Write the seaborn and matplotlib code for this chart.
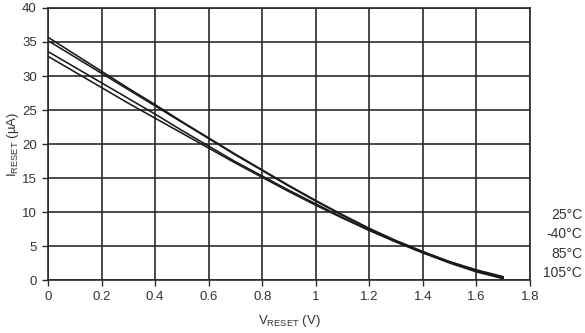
import numpy as np
import pandas as pd
import matplotlib
matplotlib.use("Agg")
import matplotlib.pyplot as plt
import matplotlib.transforms as mtransforms
import seaborn as sns

v_reset = [0.0, 0.1, 0.2, 0.3, 0.4, 0.5, 0.6, 0.7, 0.8, 0.9, 1.0,
           1.1, 1.2, 1.3, 1.4, 1.5, 1.6, 1.7]
i_25 = [35.7, 33.2, 30.7, 28.2, 25.8, 23.3, 20.9, 18.5, 16.2, 13.9, 11.7,
        9.6, 7.6, 5.8, 4.2, 2.7, 1.4, 0.4]
i_m40 = [35.2, 32.8, 30.4, 28.0, 25.6, 23.2, 20.8, 18.4, 16.1, 13.8, 11.6,
         9.5, 7.5, 5.7, 4.1, 2.7, 1.5, 0.5]
i_85 = [33.6, 31.3, 29.0, 26.7, 24.4, 22.0, 19.7, 17.4, 15.3, 13.2, 11.2,
        9.2, 7.3, 5.6, 4.0, 2.6, 1.3, 0.3]
i_105 = [32.9, 30.6, 28.3, 26.0, 23.8, 21.6, 19.4, 17.2, 15.1, 13.0, 11.0,
         9.1, 7.3, 5.6, 4.0, 2.5, 1.2, 0.2]
labels = ["25°C", "-40°C", "85°C", "105°C"]
label_y = [9.6, 6.8, 3.8, 1.0]
x_ticks = [0, 0.2, 0.4, 0.6, 0.8, 1, 1.2, 1.4, 1.6, 1.8]
x_tick_labels = ["0", "0.2", "0.4", "0.6", "0.8", "1", "1.2", "1.4", "1.6", "1.8"]
y_ticks = [0, 5, 10, 15, 20, 25, 30, 35, 40]

series = [i_25, i_m40, i_85, i_105]
df = pd.concat([pd.DataFrame({"V": v_reset, "I": s, "T": lab})
                for s, lab in zip(series, labels)], ignore_index=True)

sns.set_theme(style="white")
plt.rcParams["font.family"] = ["Liberation Sans", "DejaVu Sans"]
plt.rcParams["mathtext.fontset"] = "custom"
plt.rcParams["mathtext.rm"] = "Liberation Sans"

txt = "#333333"
gridc = "#2a2a2a"

fig = plt.figure(figsize=(5.85, 3.33), dpi=100)
ax = fig.add_axes([0.082, 0.159, 0.824, 0.817])

sns.lineplot(data=df, x="V", y="I", hue="T", palette=["#1a1a1a"] * 4,
             linewidth=1.15, legend=False, ax=ax, sort=False)

ax.set_xlim(0, 1.8)
ax.set_ylim(0, 40)
ax.set_xticks(x_ticks)
ax.set_xticklabels(x_tick_labels)
ax.set_yticks(y_ticks)
ax.grid(True, color=gridc, linewidth=1.2)
ax.set_axisbelow(True)
for sp in ax.spines.values():
    sp.set_visible(True)
    sp.set_color(gridc)
    sp.set_linewidth(1.2)
ax.tick_params(axis="both", direction="out", length=4, width=1.0,
               color=gridc, labelsize=9.5, labelcolor=txt, pad=4,
               bottom=True, left=True)

ax.set_xlabel(r"V$_{\mathrm{RESET}}$ (V)", fontsize=9.5, color=txt, labelpad=7)
ax.set_ylabel(r"I$_{\mathrm{RESET}}$ (µA)", fontsize=9.5, color=txt)
ax.yaxis.set_label_coords(-0.056, 0.5)

trans = mtransforms.blended_transform_factory(fig.transFigure, ax.transData)
for lab, yv in zip(labels, label_y):
    ax.text(0.995, yv, lab, transform=trans, ha="right", va="center",
            fontsize=10, color=txt, clip_on=False)

fig.savefig("out.png", dpi=100)
